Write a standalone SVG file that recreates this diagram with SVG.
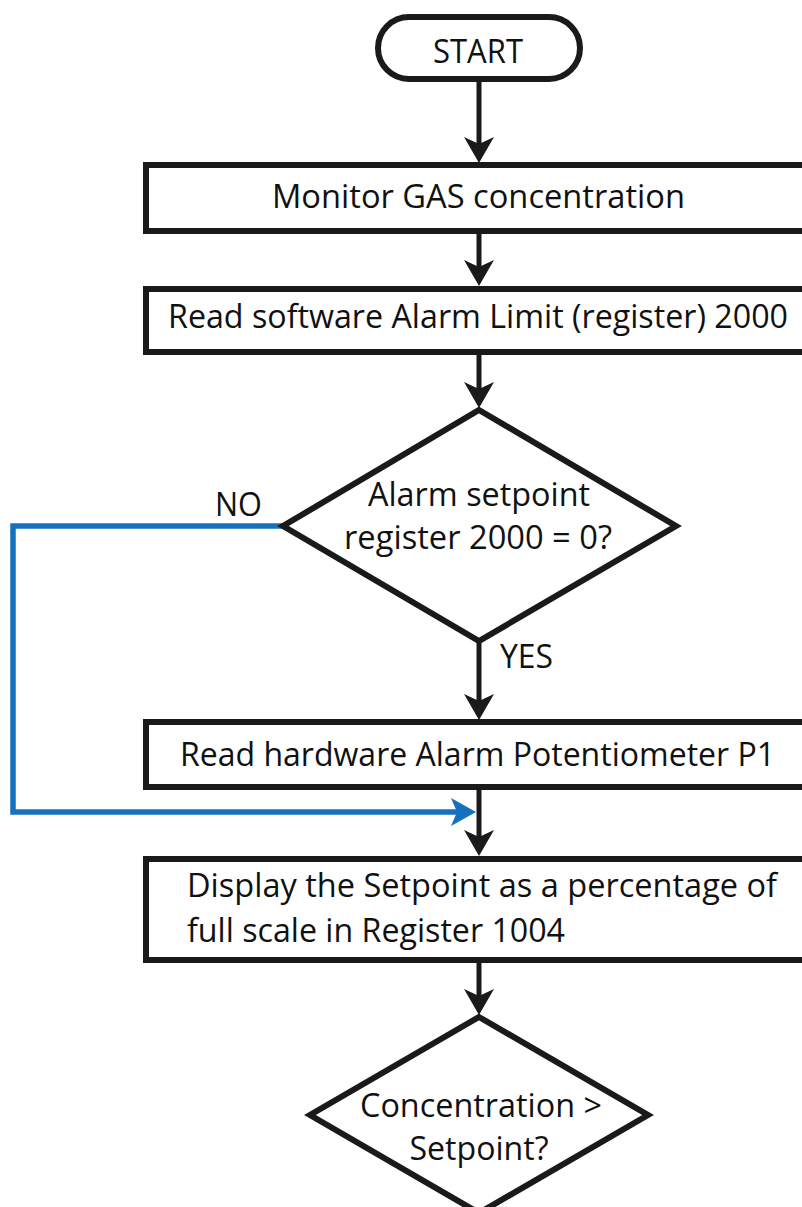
<svg xmlns="http://www.w3.org/2000/svg" width="802" height="1207" viewBox="0 0 802 1207">
<style>
.shape{fill:#fff;stroke:#1a1a1a;stroke-width:6;stroke-linejoin:miter}
.conn{fill:none;stroke:#1a1a1a;stroke-width:5}
.blue{fill:none;stroke:#1570be;stroke-width:5.5}
text{font-family:"Open Sans","Liberation Sans",sans-serif;font-size:32.5px;fill:#111}
.c{text-anchor:middle}
</style>
<defs>
<marker id="ah" markerUnits="userSpaceOnUse" viewBox="-26 -15 27 30" refX="-19" refY="0" markerWidth="27" markerHeight="30" orient="auto">
<path d="M0,0 L-26,-15 L-19,0 L-26,15 Z" fill="#1a1a1a"/>
</marker>
<marker id="ahb" markerUnits="userSpaceOnUse" viewBox="-26 -15 27 30" refX="-19" refY="0" markerWidth="27" markerHeight="30" orient="auto">
<path d="M0,0 L-25,-14 L-19,0 L-25,14 Z" fill="#1570be"/>
</marker>
</defs>
<rect width="802" height="1207" fill="#fff"/>
<g id="connectors">
<line class="conn" x1="479" y1="79" x2="479" y2="144" marker-end="url(#ah)"/>
<line class="conn" x1="479" y1="231" x2="479" y2="267" marker-end="url(#ah)"/>
<line class="conn" x1="479" y1="352" x2="479" y2="389" marker-end="url(#ah)"/>
<line class="conn" x1="479" y1="641" x2="479" y2="701" marker-end="url(#ah)"/>
<line class="conn" x1="479" y1="787" x2="479" y2="837" marker-end="url(#ah)"/>
<line class="conn" x1="479" y1="960" x2="479" y2="996" marker-end="url(#ah)"/>
<path class="blue" d="M283,526 H13 V812 H457" marker-end="url(#ahb)"/>
<text x="215" y="516" textLength="47" lengthAdjust="spacingAndGlyphs">NO</text>
<text x="500" y="668" textLength="53" lengthAdjust="spacingAndGlyphs">YES</text>
</g>
<g id="start">
<rect class="shape" x="378" y="17" width="202" height="62" rx="31" ry="31"/>
<text class="c" x="478" y="63" textLength="90" lengthAdjust="spacingAndGlyphs">START</text>
</g>
<g id="monitor">
<rect class="shape" x="146" y="165" width="666" height="66"/>
<text class="c" x="478.5" y="208" textLength="413" lengthAdjust="spacingAndGlyphs">Monitor GAS concentration</text>
</g>
<g id="read-software">
<rect class="shape" x="146" y="289" width="666" height="63"/>
<text class="c" x="478" y="328" textLength="620" lengthAdjust="spacingAndGlyphs">Read software Alarm Limit (register) 2000</text>
</g>
<g id="decision-setpoint">
<polygon class="shape" points="479,410 676,526 479,641 283,526"/>
<text class="c" x="479" y="506" textLength="222" lengthAdjust="spacingAndGlyphs">Alarm setpoint</text>
<text class="c" x="478" y="549" textLength="268" lengthAdjust="spacingAndGlyphs">register 2000 = 0?</text>
</g>
<g id="read-hardware">
<rect class="shape" x="146" y="722" width="666" height="65"/>
<text class="c" x="477.5" y="766" textLength="595" lengthAdjust="spacingAndGlyphs">Read hardware Alarm Potentiometer P1</text>
</g>
<g id="display">
<rect class="shape" x="146" y="859" width="666" height="101"/>
<text x="187" y="897" textLength="590" lengthAdjust="spacingAndGlyphs">Display the Setpoint as a percentage of</text>
<text x="187" y="942" textLength="378" lengthAdjust="spacingAndGlyphs">full scale in Register 1004</text>
</g>
<g id="decision-concentration">
<polygon class="shape" points="479,1017 648,1115 479,1213 310,1115"/>
<text class="c" x="481" y="1117" textLength="242" lengthAdjust="spacingAndGlyphs">Concentration &gt;</text>
<text class="c" x="479" y="1160" textLength="139" lengthAdjust="spacingAndGlyphs">Setpoint?</text>
</g>
</svg>
